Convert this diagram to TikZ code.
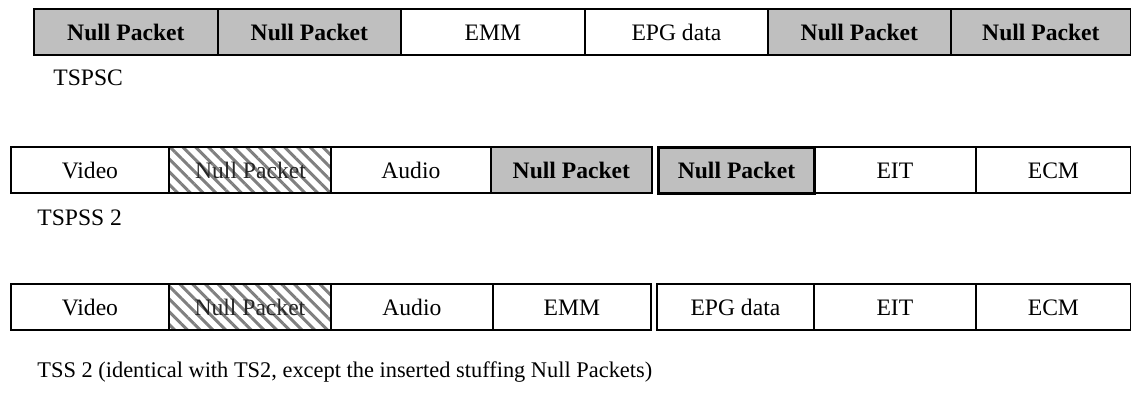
\documentclass[tikz,border=0pt]{standalone}
\usepackage{fontspec}
\setmainfont{Liberation Serif}
\usetikzlibrary{patterns.meta}

\tikzset{
  pkt/.style={draw,line width=0.9pt,inner sep=0pt,anchor=west,minimum height=23pt,
    text height=2ex,text depth=.15ex,font=\fontsize{11.8}{14}\selectfont},
  nullpkt/.style={pkt,fill=black!25,font=\fontsize{11.8}{14}\selectfont\bfseries},
  nullthick/.style={nullpkt,line width=1.5pt},
  hatchpkt/.style={pkt,text=black!85,
    pattern={Lines[angle=-45,distance=4.5pt,line width=1.5pt]},pattern color=black!50},
  rowlabel/.style={anchor=west,inner sep=0pt,font=\fontsize{11.8}{14}\selectfont},
}

\begin{document}
\begin{tikzpicture}[x=0.5pt,y=-0.5pt]
  \useasboundingbox (0,0) rectangle (1131,397);
  % TSPSC row
  \foreach \a/\b/\s/\t [count=\i] in {33/217/nullpkt/Null Packet,217/400/nullpkt/Null Packet,
      400/584/pkt/EMM,584/767/pkt/EPG data,767/950/nullpkt/Null Packet,950/1130/nullpkt/Null Packet}
    \node[\s,minimum width={(\b-\a)*0.5pt}] (tspsc\i) at (\a,32) {\t};
  \node[rowlabel] (lbltspsc) at (53,78) {TSPSC};
  % TSPSS 2 row
  \foreach \a/\b/\s/\t [count=\i] in {10/168/pkt/Video,168/330/hatchpkt/Null Packet,330/490/pkt/Audio,
      490/651/nullpkt/Null Packet,657/813/nullthick/Null Packet,813/975/pkt/EIT,975/1130/pkt/ECM}
    \node[\s,minimum width={(\b-\a)*0.5pt}] (tspss\i) at (\a,170) {\t};
  \node[rowlabel] (lbltspss) at (37,218) {TSPSS 2};
  % TSS 2 row (stuffing only in the hatched slot)
  \foreach \a/\b/\s/\t [count=\i] in {10/168/pkt/Video,168/330/hatchpkt/Null Packet,330/492/pkt/Audio,
      492/650/pkt/EMM,656/813/pkt/EPG data,813/975/pkt/EIT,975/1130/pkt/ECM}
    \node[\s,minimum width={(\b-\a)*0.5pt}] (tss\i) at (\a,307) {\t};
  \node[rowlabel,font=\fontsize{11.2}{14}\selectfont] (lbltss) at (37,372)
    {TSS 2 (identical with TS2, except the inserted stuffing Null Packets)};
\end{tikzpicture}
\end{document}
